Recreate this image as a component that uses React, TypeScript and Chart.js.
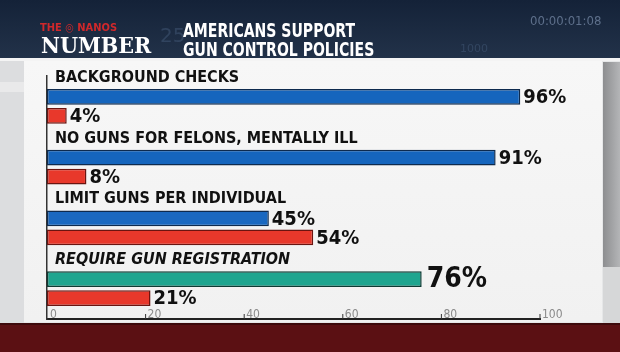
import React, { useEffect, useRef } from 'react';
import { Chart, registerables } from 'chart.js';

Chart.register(...registerables);

const categories = [
  'BACKGROUND CHECKS',
  'NO GUNS FOR FELONS, MENTALLY ILL',
  'LIMIT GUNS PER INDIVIDUAL',
  'REQUIRE GUN REGISTRATION',
];
const support = [96, 91, 45, 76];
const oppose = [4, 8, 54, 21];
const xTicks = [0, 20, 40, 60, 80, 100];
const headerTitle = ['AMERICANS SUPPORT', 'GUN CONTROL POLICIES'];

const supportColors = ['#1565bd', '#1565bd', '#1a68c0', '#1ea58f'];
const supportBorders = ['#0d2a4e', '#0d2a4e', '#0d2a4e', '#0d3a33'];

const decorPlugin = {
  id: 'decor',
  beforeDraw(chart: any) {
    const ctx = chart.ctx;
    const W = chart.width;
    const H = chart.height;
    ctx.save();
    // panel background
    ctx.fillStyle = '#e6e7e8';
    ctx.fillRect(0, 0, W, H);
    const pg = ctx.createLinearGradient(0, 60, 0, 322);
    pg.addColorStop(0, '#f7f7f7');
    pg.addColorStop(1, '#f1f1f1');
    ctx.fillStyle = pg;
    ctx.fillRect(24, 60, 578, 262);
    // left strip
    ctx.fillStyle = '#dcdddf';
    ctx.fillRect(0, 58, 24, 265);
    ctx.fillStyle = '#e9e9ea';
    ctx.fillRect(0, 82, 24, 10);
    // right gray strip
    const rg = ctx.createLinearGradient(603, 0, 620, 0);
    rg.addColorStop(0, '#8d8e90');
    rg.addColorStop(1, '#b4b5b7');
    ctx.fillStyle = rg;
    ctx.fillRect(603, 62, 17, 205);
    ctx.fillStyle = '#d6d7d8';
    ctx.fillRect(603, 267, 17, 56);
    // header
    const hg = ctx.createLinearGradient(0, 0, 0, 58);
    hg.addColorStop(0, '#142238');
    hg.addColorStop(1, '#223249');
    ctx.fillStyle = hg;
    ctx.fillRect(0, 0, W, 58);
    ctx.fillStyle = '#f4f4f4';
    ctx.fillRect(0, 58, W, 3);
    // faint decorative numbers
    ctx.fillStyle = 'rgba(120,150,190,0.22)';
    ctx.font = '20px "DejaVu Sans"';
    ctx.fillText('25', 160, 42);
    ctx.font = '11px "DejaVu Sans"';
    ctx.fillText('1000', 460, 52);
    ctx.fillStyle = 'rgba(150,170,200,0.55)';
    ctx.font = '13px "DejaVu Sans Condensed"';
    ctx.fillText('00:00:01:08', 530, 25);
    // logo
    ctx.fillStyle = '#d0282b';
    ctx.font = 'bold 11px "DejaVu Sans Condensed"';
    ctx.fillText('THE \u25CE NANOS', 40, 31);
    ctx.fillStyle = '#ffffff';
    ctx.font = 'bold 23px "DejaVu Serif Condensed", "DejaVu Serif"';
    ctx.fillText('NUMBER', 41, 53);
    // title (condensed)
    ctx.save();
    ctx.translate(183, 0);
    ctx.scale(0.78, 1);
    ctx.font = 'bold 20px "DejaVu Sans Condensed"';
    ctx.fillText(headerTitle[0], 0, 37);
    ctx.fillText(headerTitle[1], 0, 56);
    ctx.restore();
    // bottom maroon band
    ctx.fillStyle = '#5b1013';
    ctx.fillRect(0, 323, W, H - 323);
    ctx.fillStyle = '#3e0a0c';
    ctx.fillRect(0, 323, W, 2);
    ctx.restore();
  },
  afterDatasetsDraw(chart: any) {
    const ctx = chart.ctx;
    const xs = chart.scales.x;
    const yBottom = chart.chartArea.bottom;
    ctx.save();
    // axis ticks and labels
    ctx.strokeStyle = '#333';
    ctx.lineWidth = 1;
    ctx.fillStyle = '#8a8a8a';
    ctx.font = '12px "DejaVu Sans Condensed"';
    ctx.textBaseline = 'alphabetic';
    ctx.textAlign = 'left';
    xTicks.forEach((v) => {
      const px = xs.getPixelForValue(v);
      if (v > 0) {
        ctx.beginPath();
        ctx.moveTo(px, yBottom);
        ctx.lineTo(px, yBottom - 5);
        ctx.stroke();
      }
      ctx.fillText(String(v), px + (v > 0 ? 2 : 3), yBottom - 1);
    });
    // category labels and value labels
    const m0 = chart.getDatasetMeta(0);
    const m1 = chart.getDatasetMeta(1);
    ctx.fillStyle = '#111';
    ctx.textBaseline = 'middle';
    categories.forEach((c, i) => {
      const b0 = m0.data[i];
      const b1 = m1.data[i];
      ctx.font = (i === 3 ? 'italic ' : '') + 'bold 16px "DejaVu Sans Condensed"';
      ctx.fillText(c, chart.chartArea.left + 8, b0.y - 19);
      ctx.font = i === 3 ? 'bold 28px "DejaVu Sans Condensed"' : 'bold 20px "DejaVu Sans Condensed"';
      ctx.fillText(support[i] + '%', b0.x + (i === 3 ? 5 : 3), b0.y + 1);
      ctx.font = 'bold 20px "DejaVu Sans Condensed"';
      ctx.fillText(oppose[i] + '%', b1.x + 3, b1.y + 1);
    });
    ctx.restore();
  },
};

export default function App() {
  const ref = useRef<HTMLCanvasElement>(null);
  useEffect(() => {
    if (!ref.current) return;
    const chart = new Chart(ref.current, {
      type: 'bar',
      data: {
        labels: categories,
        datasets: [
          {
            label: 'Support',
            data: support,
            backgroundColor: supportColors,
            borderColor: supportBorders,
            borderWidth: 1.5,
            borderSkipped: false,
            categoryPercentage: 0.63,
            barPercentage: 0.82,
          },
          {
            label: 'Oppose',
            data: oppose,
            backgroundColor: '#e8382b',
            borderColor: '#6a1410',
            borderWidth: 1.5,
            borderSkipped: false,
            categoryPercentage: 0.63,
            barPercentage: 0.82,
          },
        ],
      },
      options: {
        indexAxis: 'y',
        animation: false,
        responsive: false,
        devicePixelRatio: 1,
        layout: { padding: { left: 47, right: 80, top: 76, bottom: 33 } },
        plugins: { legend: { display: false }, tooltip: { enabled: false }, title: { display: false } },
        scales: {
          x: {
            min: 0,
            max: 100,
            grid: { display: false, drawTicks: false },
            ticks: { display: false },
            border: { display: true, color: '#222', width: 2 },
          },
          y: {
            grid: { display: false, drawTicks: false },
            ticks: { display: false },
            border: { display: true, color: '#333', width: 1.5 },
          },
        },
      },
      plugins: [decorPlugin],
    });
    return () => chart.destroy();
  }, []);
  return (
    <div style={{ position: 'fixed', left: 0, top: 0, width: 620, height: 352 }}>
      <canvas ref={ref} width={620} height={352} />
    </div>
  );
}
